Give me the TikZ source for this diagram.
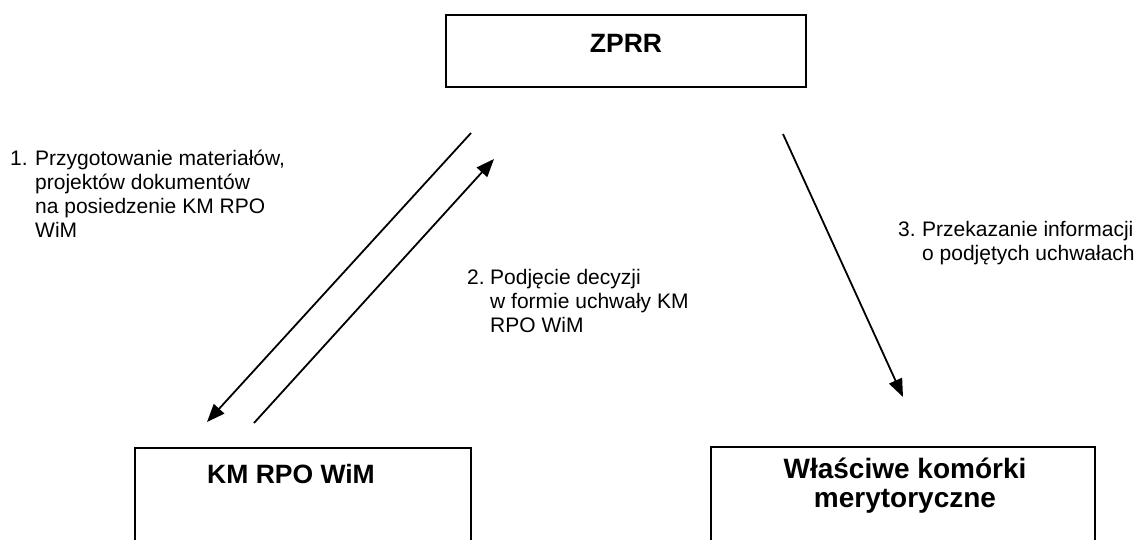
\documentclass[tikz,border=0pt]{standalone}
\usepackage{fontspec}
\setmainfont{Liberation Sans}
\usetikzlibrary{arrows.meta}
\begin{document}
\begin{tikzpicture}[x=1pt,y=-1pt,
  box/.style={draw=black,line width=1.8pt,rectangle,inner sep=0pt},
  flow/.style={line width=1.8pt,-{Triangle[length=18pt,width=14pt]}},
  lbl/.style={inner sep=0pt,anchor=base west,font=\fontsize{21}{24}\selectfont},
  title/.style={inner sep=0pt,font=\bfseries\fontsize{26.5}{30}\selectfont},
  bigtitle/.style={inner sep=0pt,font=\bfseries\fontsize{28}{29}\selectfont}]
\useasboundingbox (0,0) rectangle (1141,539);
\clip (0,0) rectangle (1141,539);
% boxes
\node[box,minimum width=360pt,minimum height=72pt] (zprr) at (626,51) {};
\node[title,anchor=base] (zprrt) at (626,52) {ZPRR};
\node[box,minimum width=336pt,minimum height=132pt] (km) at (303,514) {};
\node[title,anchor=base west] (kmt) at (207,483) {KM RPO WiM};
\node[box,minimum width=384pt,minimum height=133pt] (wk) at (903,513.5) {};
\node[bigtitle,anchor=base] (wkt) at (905,478) {\begin{tabular}[t]{@{}c@{}}Właściwe komórki\\ merytoryczne\end{tabular}};
% connectors
\coordinate (a1s) at (471,133); \coordinate (a1e) at (207,422);
\coordinate (a2s) at (254,423); \coordinate (a2e) at (494,159);
\coordinate (a3s) at (783,134); \coordinate (a3e) at (903,397);
\draw[flow] (a1s) -- (a1e);
\draw[flow] (a2s) -- (a2e);
\draw[flow] (a3s) -- (a3e);
% labels
\node[lbl] (l1) at (10,165) {\begin{tabular}[t]{@{}l@{}l@{}}\makebox[25pt][l]{1.} & Przygotowanie materiałów,\\ & projektów dokumentów\\ & na posiedzenie KM RPO\\ & WiM\end{tabular}};
\node[lbl] (l2) at (467,284) {\begin{tabular}[t]{@{}l@{}l@{}}\makebox[23pt][l]{2.} & Podjęcie decyzji\\ & w formie uchwały KM\\ & RPO WiM\end{tabular}};
\node[lbl] (l3) at (898,236) {\begin{tabular}[t]{@{}l@{}l@{}}\makebox[24pt][l]{3.} & Przekazanie informacji\\ & o podjętych uchwałach\end{tabular}};
\end{tikzpicture}
\end{document}
